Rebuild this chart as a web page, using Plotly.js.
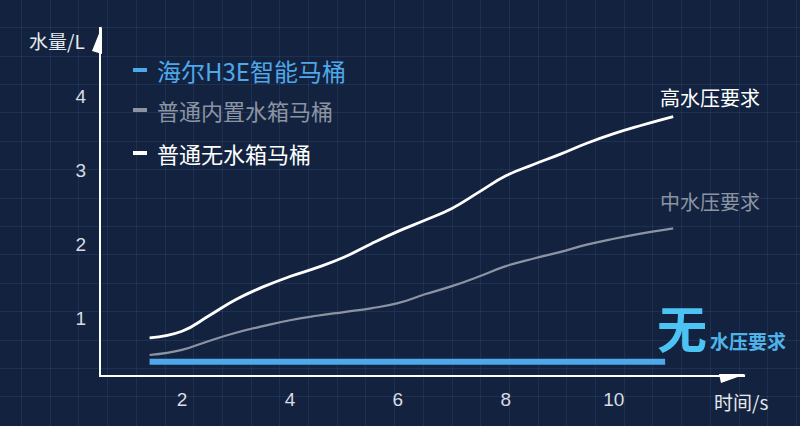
<!doctype html>
<html lang="zh">
<head>
    <meta charset="UTF-8">
    <title>马桶用水量对比</title>
    <script src="https://cdn.plot.ly/plotly-3.0.1.min.js"></script>
    <style>
        html, body { margin: 0; padding: 0; background: #13233f; }
        #chart { width: 800px; height: 426px; }
    </style>
</head>
<body>
    <div id="chart"></div>

    <script>
        // data
        var times = [1.4, 2, 2.5, 3, 3.5, 4, 4.5, 5, 5.5, 6, 6.5, 7, 7.5, 8, 8.5, 9, 9.5, 10, 10.5, 11.1];
        var highPressure = [0.73, 0.82, 1.03, 1.25, 1.42, 1.56, 1.68, 1.82, 2.00, 2.17, 2.32, 2.48, 2.70, 2.92, 3.07, 3.21, 3.36, 3.49, 3.60, 3.72];
        var midPressure = [0.50, 0.57, 0.69, 0.80, 0.89, 0.97, 1.03, 1.08, 1.13, 1.20, 1.32, 1.43, 1.56, 1.70, 1.80, 1.89, 1.99, 2.07, 2.14, 2.21];
        var h3eTimes = [1.4, 10.95];
        var h3eWater = [0.41, 0.41];

        var seriesNames = ['海尔H3E智能马桶', '普通内置水箱马桶', '普通无水箱马桶'];
        var seriesColors = ['#4ea8ea', '#8c94a3', '#ffffff'];
        var xTicks = [2, 4, 6, 8, 10];
        var yTicks = [1, 2, 3, 4];

        var W = 800, H = 426;
        function px(x) { return x / W; }
        function py(y) { return 1 - y / H; }

        var cjk = '"Noto Sans CJK SC", "Noto Sans", sans-serif';
        var latin = '"Liberation Sans", Arial, sans-serif';

        var traces = [
            // empty trace for the background grid subplot
            { x: [], y: [], xaxis: 'x', yaxis: 'y', showlegend: false, hoverinfo: 'skip' },
            {
                x: times, y: midPressure, xaxis: 'x2', yaxis: 'y2', name: seriesNames[1],
                mode: 'lines', line: { color: seriesColors[1], width: 2.2, shape: 'spline', smoothing: 1.3 }
            },
            {
                x: times, y: highPressure, xaxis: 'x2', yaxis: 'y2', name: seriesNames[2],
                mode: 'lines', line: { color: seriesColors[2], width: 2.8, shape: 'spline', smoothing: 1.3 }
            },
            {
                x: h3eTimes, y: h3eWater, xaxis: 'x2', yaxis: 'y2', name: seriesNames[0],
                mode: 'lines', line: { color: seriesColors[0], width: 6 }
            }
        ];

        // text label helper, anchored explicitly
        function label(x, y, text, size, color, xanchor) {
            return {
                xref: 'paper', yref: 'paper', x: px(x), y: py(y),
                xanchor: xanchor || 'center', yanchor: 'middle', showarrow: false,
                text: text, font: { family: cjk, size: size, color: color }
            };
        }

        // legend built by hand: short dash + label
        var legendY = [70, 110, 153];
        var legendSize = [24, 22, 22];
        var shapes = [];
        var annotations = [];
        seriesNames.forEach(function (name, i) {
            shapes.push({
                type: 'line', xref: 'paper', yref: 'paper',
                x0: px(133), x1: px(147), y0: py(legendY[i]), y1: py(legendY[i]),
                line: { color: seriesColors[i], width: 4 }
            });
            annotations.push(label(155, legendY[i], name, legendSize[i], seriesColors[i], 'left'));
        });

        // arrow heads on the axes
        shapes.push({
            type: 'path', xref: 'paper', yref: 'paper', fillcolor: '#ffffff', line: { width: 0 },
            path: 'M ' + px(719) + ',' + py(374) + ' L ' + px(746) + ',' + py(374) + ' L ' + px(721) + ',' + py(383) + ' Z'
        });
        shapes.push({
            type: 'path', xref: 'paper', yref: 'paper', fillcolor: '#ffffff', line: { width: 0 },
            path: 'M ' + px(102) + ',' + py(26) + ' L ' + px(102) + ',' + py(54) + ' L ' + px(92) + ',' + py(51) + ' Z'
        });

        annotations.push(
            label(57, 40, '水量/L', 19, '#e6e9ee'),
            label(741, 401, '时间/s', 19, '#e6e9ee'),
            label(658, 97, '高水压要求', 20, '#ffffff', 'left'),
            label(658, 202, '中水压要求', 20, '#8c94a3', 'left'),
            label(655, 326, '<b>无</b>', 50, '#4cc3f2', 'left'),
            label(708, 340, '<b>水压要求</b>', 19, '#4fb3ea', 'left')
        );

        var layout = {
            width: W, height: H,
            margin: { l: 0, r: 0, t: 0, b: 0 },
            paper_bgcolor: '#13233f',
            plot_bgcolor: 'rgba(0,0,0,0)',
            showlegend: false,
            // faint blueprint grid across the whole picture
            xaxis: {
                domain: [0, 1], range: [0, W], anchor: 'y',
                tick0: 21.5, dtick: 28.7, showticklabels: false, ticks: '',
                showgrid: true, gridcolor: 'rgba(110,150,210,0.12)', gridwidth: 1,
                zeroline: false, showline: false, fixedrange: true
            },
            yaxis: {
                domain: [0, 1], range: [H, 0], anchor: 'x',
                tick0: 27.6, dtick: 28.4, showticklabels: false, ticks: '',
                showgrid: true, gridcolor: 'rgba(110,150,210,0.12)', gridwidth: 1,
                zeroline: false, showline: false, fixedrange: true
            },
            xaxis2: {
                domain: [px(101), px(745)], range: [0.5, 12.43], anchor: 'y2',
                tickvals: xTicks, ticktext: xTicks.map(String), ticks: '',
                ticklabelstandoff: 6,
                tickfont: { family: latin, size: 19, color: '#d8dce3' },
                showgrid: false, zeroline: false,
                showline: true, linecolor: '#ffffff', linewidth: 2
            },
            yaxis2: {
                domain: [py(375), py(27)], range: [0.23, 4.93], anchor: 'x2',
                tickvals: yTicks, ticktext: yTicks.map(String), ticks: '',
                ticklabelstandoff: 9,
                tickfont: { family: latin, size: 19, color: '#d8dce3' },
                showgrid: false, zeroline: false,
                showline: true, linecolor: '#ffffff', linewidth: 2
            },
            shapes: shapes,
            annotations: annotations
        };

        Plotly.newPlot('chart', traces, layout, { staticPlot: true, displayModeBar: false });
    </script>
</body>
</html>
